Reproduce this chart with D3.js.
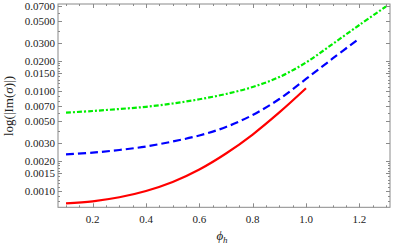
<!DOCTYPE html>
<html><head><meta charset="utf-8">
<script src="https://cdn.jsdelivr.net/npm/d3@7"></script>
<style>body{margin:0;background:#fff}svg{display:block}</style>
</head><body>
<svg id="c" width="395" height="247"></svg>
<script>
const phi = [0.1,0.2,0.3,0.4,0.5,0.6,0.7,0.8,0.9,1.0,1.1,1.2,1.3];
const redVals   = [0.000753,0.000789,0.000865,0.00100,0.00123,0.00164,0.00237,0.00367,0.0061,0.01064];
const blueVals  = [0.002328,0.002421,0.00257,0.002786,0.003126,0.003589,0.004365,0.005754,0.008318,0.01318,0.02113,0.0335];
const greenVals = [0.006067,0.00631,0.006607,0.00695,0.007499,0.00826,0.009333,0.01096,0.0138,0.01928,0.02951,0.04571,0.06998];
const yTickLabels = ["0.0010","0.0015","0.0020","0.0030","0.0050","0.0070","0.0100","0.0150","0.0200","0.0300","0.0500","0.0700"];
const xTickLabels = ["0.2","0.4","0.6","0.8","1.0","1.2"];

const svg = d3.select("#c");
const L=58, R=390, T=4, B=207.3;
const x = d3.scaleLinear().domain([0.07,1.315]).range([L,R]);
const y = d3.scaleLog().domain([0.000687,0.0741]).range([B,T]);
const axisCol = "#8a8a8a";
const font = "'Liberation Serif','DejaVu Serif',serif";

const yMinor = [];
[0.001,0.01].forEach(d=>{
  for(let k=11;k<=19;k++) yMinor.push(d*k/10);
  [4,6,8,9].forEach(k=>yMinor.push(d*k));
});
yMinor.push(0.0008,0.0009);
const yMajor = yTickLabels.map(Number);
const xMajor = xTickLabels.map(Number);
const xMinor = d3.range(0.1,1.31,0.05).map(v=>+v.toFixed(2)).filter(v=>!xMajor.includes(v));

const g = svg.append("g");
g.append("rect").attr("x",L).attr("y",T).attr("width",R-L).attr("height",B-T)
 .attr("fill","none").attr("stroke",axisCol).attr("stroke-width",1);

function hTick(v,len){
  const yy=Math.round(y(v))+0.5;
  if(yy<T||yy>B) return;
  g.append("line").attr("x1",L).attr("x2",L+len).attr("y1",yy).attr("y2",yy).attr("stroke",axisCol);
  g.append("line").attr("x1",R).attr("x2",R-len).attr("y1",yy).attr("y2",yy).attr("stroke",axisCol);
}
function vTick(v,len){
  const xx=Math.round(x(v))+0.5;
  g.append("line").attr("y1",B).attr("y2",B-len).attr("x1",xx).attr("x2",xx).attr("stroke",axisCol);
  g.append("line").attr("y1",T).attr("y2",T+len).attr("x1",xx).attr("x2",xx).attr("stroke",axisCol);
}
yMajor.forEach(v=>hTick(v,4));
yMinor.filter(v=>!yMajor.some(m=>Math.abs(m-v)<1e-9)).forEach(v=>hTick(v,2));
xMajor.forEach(v=>vTick(v,4));
xMinor.forEach(v=>vTick(v,2));

yTickLabels.forEach(t=>{
  g.append("text").attr("x",L-3).attr("y",y(+t)).attr("dy","0.35em")
   .attr("text-anchor","end").attr("font-family",font).attr("font-size",11).attr("fill","#222").text(t);
});
xTickLabels.forEach(t=>{
  g.append("text").attr("x",x(+t)).attr("y",223).attr("text-anchor","middle")
   .attr("font-family",font).attr("font-size",11).attr("fill","#222").text(t);
});

const yl = g.append("text").attr("transform","translate(13,106) rotate(-90)").attr("text-anchor","middle")
 .attr("font-family",font).attr("font-size",13).attr("fill","#222");
yl.append("tspan").text("log(|Im(");
yl.append("tspan").attr("font-style","italic").text("σ");
yl.append("tspan").text(")|)");
const xl = g.append("text").attr("x",222).attr("y",240).attr("text-anchor","middle")
 .attr("font-family",font).attr("font-size",13).attr("fill","#222");
xl.append("tspan").attr("font-style","italic").text("ϕ");
xl.append("tspan").attr("font-style","italic").attr("font-size",9).attr("dy",3).text("h");

const line = d3.line().x(d=>x(d[0])).y(d=>y(d[1])).curve(d3.curveCatmullRom.alpha(0.5));
const series = [
  {vals:greenVals, col:"#00ee00", dash:"5,2,2,2"},
  {vals:blueVals, col:"#0000ff", dash:"8,4"},
  {vals:redVals, col:"#ff0000", dash:null}
];
series.forEach(s=>{
  const pts = s.vals.map((v,i)=>[phi[i],v]);
  const p = g.append("path").attr("d",line(pts)).attr("fill","none")
    .attr("stroke",s.col).attr("stroke-width",2.2);
  if(s.dash) p.attr("stroke-dasharray",s.dash);
});
</script>
</body></html>
